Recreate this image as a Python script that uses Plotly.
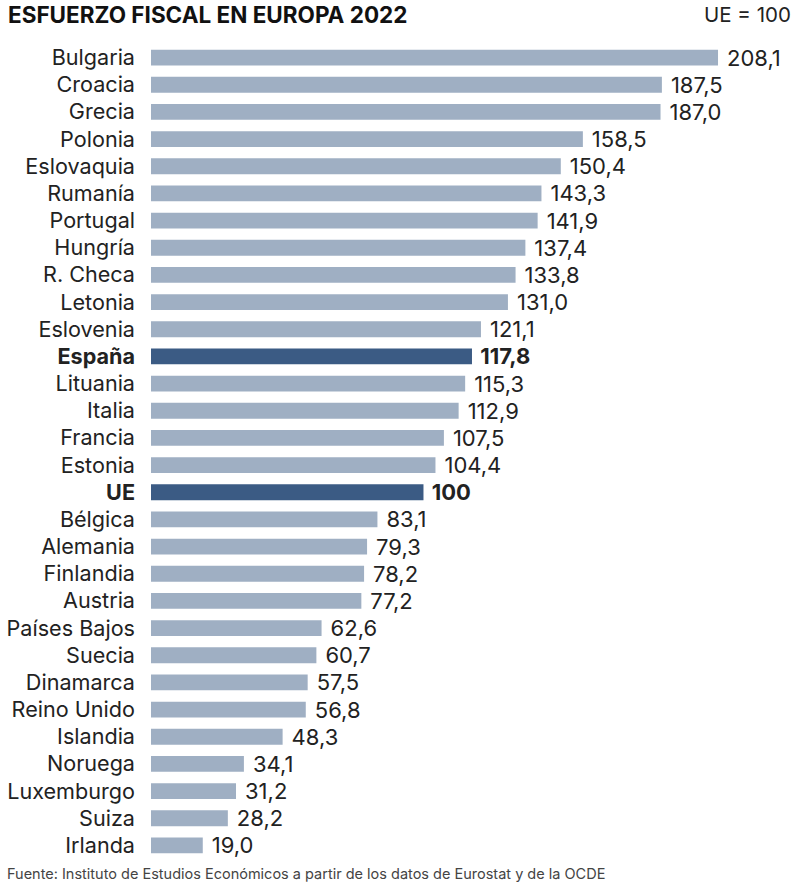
import plotly.graph_objects as go

countries = ["Bulgaria", "Croacia", "Grecia", "Polonia", "Eslovaquia", "Rumanía", "Portugal", "Hungría",
             "R. Checa", "Letonia", "Eslovenia", "España", "Lituania", "Italia", "Francia", "Estonia", "UE",
             "Bélgica", "Alemania", "Finlandia", "Austria", "Países Bajos", "Suecia", "Dinamarca",
             "Reino Unido", "Islandia", "Noruega", "Luxemburgo", "Suiza", "Irlanda"]
values = [208.1, 187.5, 187.0, 158.5, 150.4, 143.3, 141.9, 137.4, 133.8, 131.0, 121.1, 117.8, 115.3, 112.9,
          107.5, 104.4, 100, 83.1, 79.3, 78.2, 77.2, 62.6, 60.7, 57.5, 56.8, 48.3, 34.1, 31.2, 28.2, 19.0]
highlighted = ["España", "UE"]

FONT = "Inter"
BAR = "#9fafc3"
DARK = "#3b5b84"
INK = "#222222"

W, H = 800, 888
L, R, T, B = 151, 8, 43.6, 29.4
PW, PH = W - L - R, H - T - B


def label(name, value):
    text = "100" if value == 100 else f"{value:.1f}".replace(".", ",")
    text = "\u2009\u200a" + text
    return f"<b>{text}</b>" if name in highlighted else text


fig = go.Figure(go.Bar(
    x=values,
    y=countries,
    orientation="h",
    width=0.58,
    marker=dict(color=[DARK if c in highlighted else BAR for c in countries], line=dict(width=0)),
    text=[label(c, v) for c, v in zip(countries, values)],
    textposition="outside",
    constraintext="none",
    cliponaxis=False,
    textfont=dict(family=FONT, size=22, color=INK),
))

fig.update_layout(
    width=W,
    height=H,
    paper_bgcolor="white",
    plot_bgcolor="white",
    showlegend=False,
    margin=dict(l=L, r=R, t=T, b=B),
    font=dict(family=FONT, color=INK),
    xaxis=dict(visible=False, range=[0, 235.25], fixedrange=True),
    yaxis=dict(
        autorange="reversed",
        automargin=False,
        ticks="",
        showline=False,
        showgrid=False,
        ticklabelstandoff=15,
        tickmode="array",
        tickvals=countries,
        ticktext=[f"<b>{c}</b>" if c in highlighted else c for c in countries],
        tickfont=dict(family=FONT, size=21.6, color=INK),
    ),
    annotations=[
        dict(text="<b>ESFUERZO FISCAL EN EUROPA 2022</b>", x=-143 / PW, y=1 + 29 / PH, xref="paper", yref="paper",
             showarrow=False, xanchor="left", yanchor="middle", xshift=-2,
             font=dict(family=FONT, size=22.5, color="#111111")),
        dict(text="UE = 100", x=1, y=1 + 29 / PH, xref="paper", yref="paper",
             showarrow=False, xanchor="right", yanchor="middle", xshift=1,
             font=dict(family=FONT, size=20.5, color=INK)),
        dict(text="Fuente: Instituto de Estudios Económicos a partir de los datos de Eurostat y de la OCDE",
             x=-143 / PW, y=-15 / PH, xref="paper", yref="paper", showarrow=False, xanchor="left", yanchor="middle",
             xshift=-3, font=dict(family=FONT, size=14.5, color="#444444")),
    ],
)

# drop the browser's default body margin so the figure fills the window
fig.write_html("out.html", config=dict(displayModeBar=False), post_script="document.body.style.margin = '0';")
